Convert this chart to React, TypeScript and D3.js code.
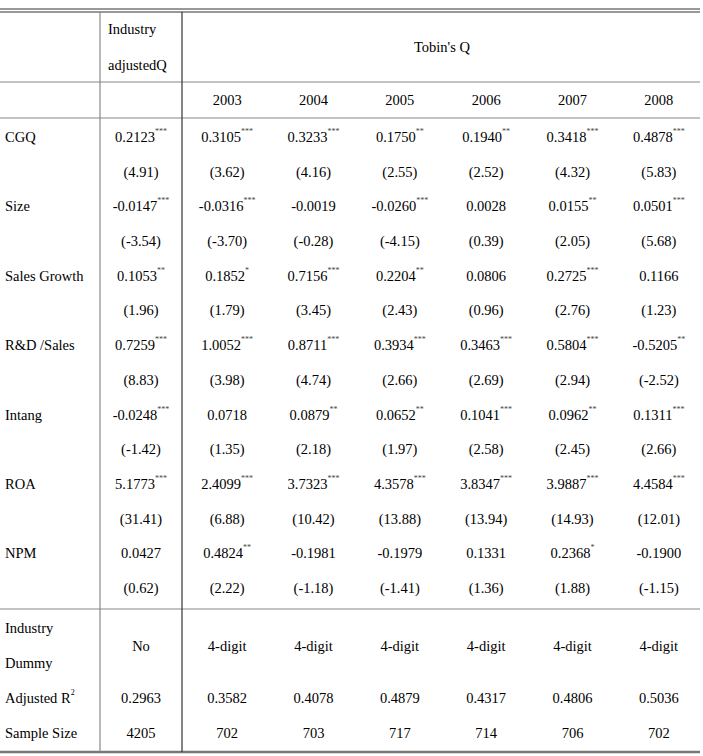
import React from "react";
import * as d3 from "d3";

// table content
const columns = ["2003", "2004", "2005", "2006", "2007", "2008"];
const variables = ["CGQ", "Size", "Sales Growth", "R&D /Sales", "Intang", "ROA", "NPM"];

const coefs = [
  ["0.2123", "0.3105", "0.3233", "0.1750", "0.1940", "0.3418", "0.4878"],
  ["-0.0147", "-0.0316", "-0.0019", "-0.0260", "0.0028", "0.0155", "0.0501"],
  ["0.1053", "0.1852", "0.7156", "0.2204", "0.0806", "0.2725", "0.1166"],
  ["0.7259", "1.0052", "0.8711", "0.3934", "0.3463", "0.5804", "-0.5205"],
  ["-0.0248", "0.0718", "0.0879", "0.0652", "0.1041", "0.0962", "0.1311"],
  ["5.1773", "2.4099", "3.7323", "4.3578", "3.8347", "3.9887", "4.4584"],
  ["0.0427", "0.4824", "-0.1981", "-0.1979", "0.1331", "0.2368", "-0.1900"],
];

const stars = [
  ["***", "***", "***", "**", "**", "***", "***"],
  ["***", "***", "", "***", "", "**", "***"],
  ["**", "*", "***", "**", "", "***", ""],
  ["***", "***", "***", "***", "***", "***", "**"],
  ["***", "", "**", "**", "***", "**", "***"],
  ["***", "***", "***", "***", "***", "***", "***"],
  ["", "**", "", "", "", "*", ""],
];

const tstats = [
  ["4.91", "3.62", "4.16", "2.55", "2.52", "4.32", "5.83"],
  ["-3.54", "-3.70", "-0.28", "-4.15", "0.39", "2.05", "5.68"],
  ["1.96", "1.79", "3.45", "2.43", "0.96", "2.76", "1.23"],
  ["8.83", "3.98", "4.74", "2.66", "2.69", "2.94", "-2.52"],
  ["-1.42", "1.35", "2.18", "1.97", "2.58", "2.45", "2.66"],
  ["31.41", "6.88", "10.42", "13.88", "13.94", "14.93", "12.01"],
  ["0.62", "2.22", "-1.18", "-1.41", "1.36", "1.88", "-1.15"],
];

const dummy = ["No", "4-digit", "4-digit", "4-digit", "4-digit", "4-digit", "4-digit"];
const adjR2 = ["0.2963", "0.3582", "0.4078", "0.4879", "0.4317", "0.4806", "0.5036"];
const sampleSize = ["4205", "702", "703", "717", "714", "706", "702"];

const W = 703;
const H = 756;
const font = "'Liberation Serif', 'Times New Roman', serif";
const fs = 14.5;

export default function App() {
  const x0 = 0, xLab = 100, xInd = 182, xEnd = 700;
  const xYear = d3.scaleBand().domain(columns).range([xInd + 2, xEnd + 2]);
  const colX = (i: number) =>
    i === 0 ? (xLab + xInd) / 2 : (xYear(columns[i - 1]) as number) + xYear.bandwidth() / 2;

  // body rows: two lines per variable
  const rowY = d3.scaleLinear().domain([0, 13]).range([137, 588]);
  const footY = d3.scaleLinear().domain([0, 3]).range([628, 733]);

  const lines = { top1: 9, top2: 12, head: 82, year: 118, body: 609, bottom: 752 };

  const cell = (txt: string, sup: string, cx: number, cy: number, key: string) => (
    <text key={key} x={cx} y={cy} textAnchor="middle" dominantBaseline="central" fontSize={fs}>
      {txt}
      {sup && (
        <tspan fontSize={8} dy={-6} fill="#444">
          {sup}
        </tspan>
      )}
    </text>
  );

  return (
    <svg
      width={W}
      height={H}
      style={{ position: "absolute", left: 0, top: 0, background: "#fff" }}
      fontFamily={font}
      fill="#000"
    >
      {/* rules */}
      <line x1={x0} x2={xEnd} y1={lines.top1} y2={lines.top1} stroke="#333" strokeWidth={1} />
      <line x1={x0} x2={xEnd} y1={lines.top2} y2={lines.top2} stroke="#333" strokeWidth={1} />
      {[lines.head, lines.year, lines.body].map((y) => (
        <line key={y} x1={x0} x2={xEnd} y1={y} y2={y} stroke="#888" strokeWidth={1.2} />
      ))}
      <line x1={x0} x2={xEnd} y1={lines.bottom} y2={lines.bottom} stroke="#777" strokeWidth={2.5} />
      <line x1={xLab} x2={xLab} y1={lines.top2} y2={lines.bottom} stroke="#888" strokeWidth={1.2} />
      <line x1={xInd} x2={xInd} y1={lines.top2} y2={lines.bottom} stroke="#333" strokeWidth={1.2} />

      {/* header */}
      <text x={xLab + 8} y={29} dominantBaseline="central" fontSize={fs}>Industry</text>
      <text x={xLab + 8} y={65} dominantBaseline="central" fontSize={fs}>adjustedQ</text>
      <text x={(xInd + xEnd) / 2 + 1} y={47} textAnchor="middle" dominantBaseline="central" fontSize={fs}>
        Tobin's Q
      </text>
      {columns.map((c, i) => (
        <text key={c} x={colX(i + 1)} y={100} textAnchor="middle" dominantBaseline="central" fontSize={fs}>
          {c}
        </text>
      ))}

      {/* body */}
      {variables.map((v, r) => (
        <g key={v}>
          <text x={5} y={rowY(r * 2)} dominantBaseline="central" fontSize={fs}>{v}</text>
          {coefs[r].map((c, i) => cell(c, stars[r][i], colX(i), rowY(r * 2), `c${r}-${i}`))}
          {tstats[r].map((t, i) => cell(`(${t})`, "", colX(i), rowY(r * 2 + 1), `t${r}-${i}`))}
        </g>
      ))}

      {/* footer */}
      <text x={5} y={footY(0)} dominantBaseline="central" fontSize={fs}>Industry</text>
      <text x={5} y={footY(1)} dominantBaseline="central" fontSize={fs}>Dummy</text>
      {dummy.map((d, i) => cell(d, "", colX(i), (footY(0) + footY(1)) / 2, `d${i}`))}
      <text x={5} y={footY(2)} dominantBaseline="central" fontSize={fs}>
        Adjusted R
        <tspan fontSize={8} dy={-6}>2</tspan>
      </text>
      {adjR2.map((d, i) => cell(d, "", colX(i), footY(2), `r${i}`))}
      <text x={5} y={footY(3)} dominantBaseline="central" fontSize={fs}>Sample Size</text>
      {sampleSize.map((d, i) => cell(d, "", colX(i), footY(3), `s${i}`))}
    </svg>
  );
}
